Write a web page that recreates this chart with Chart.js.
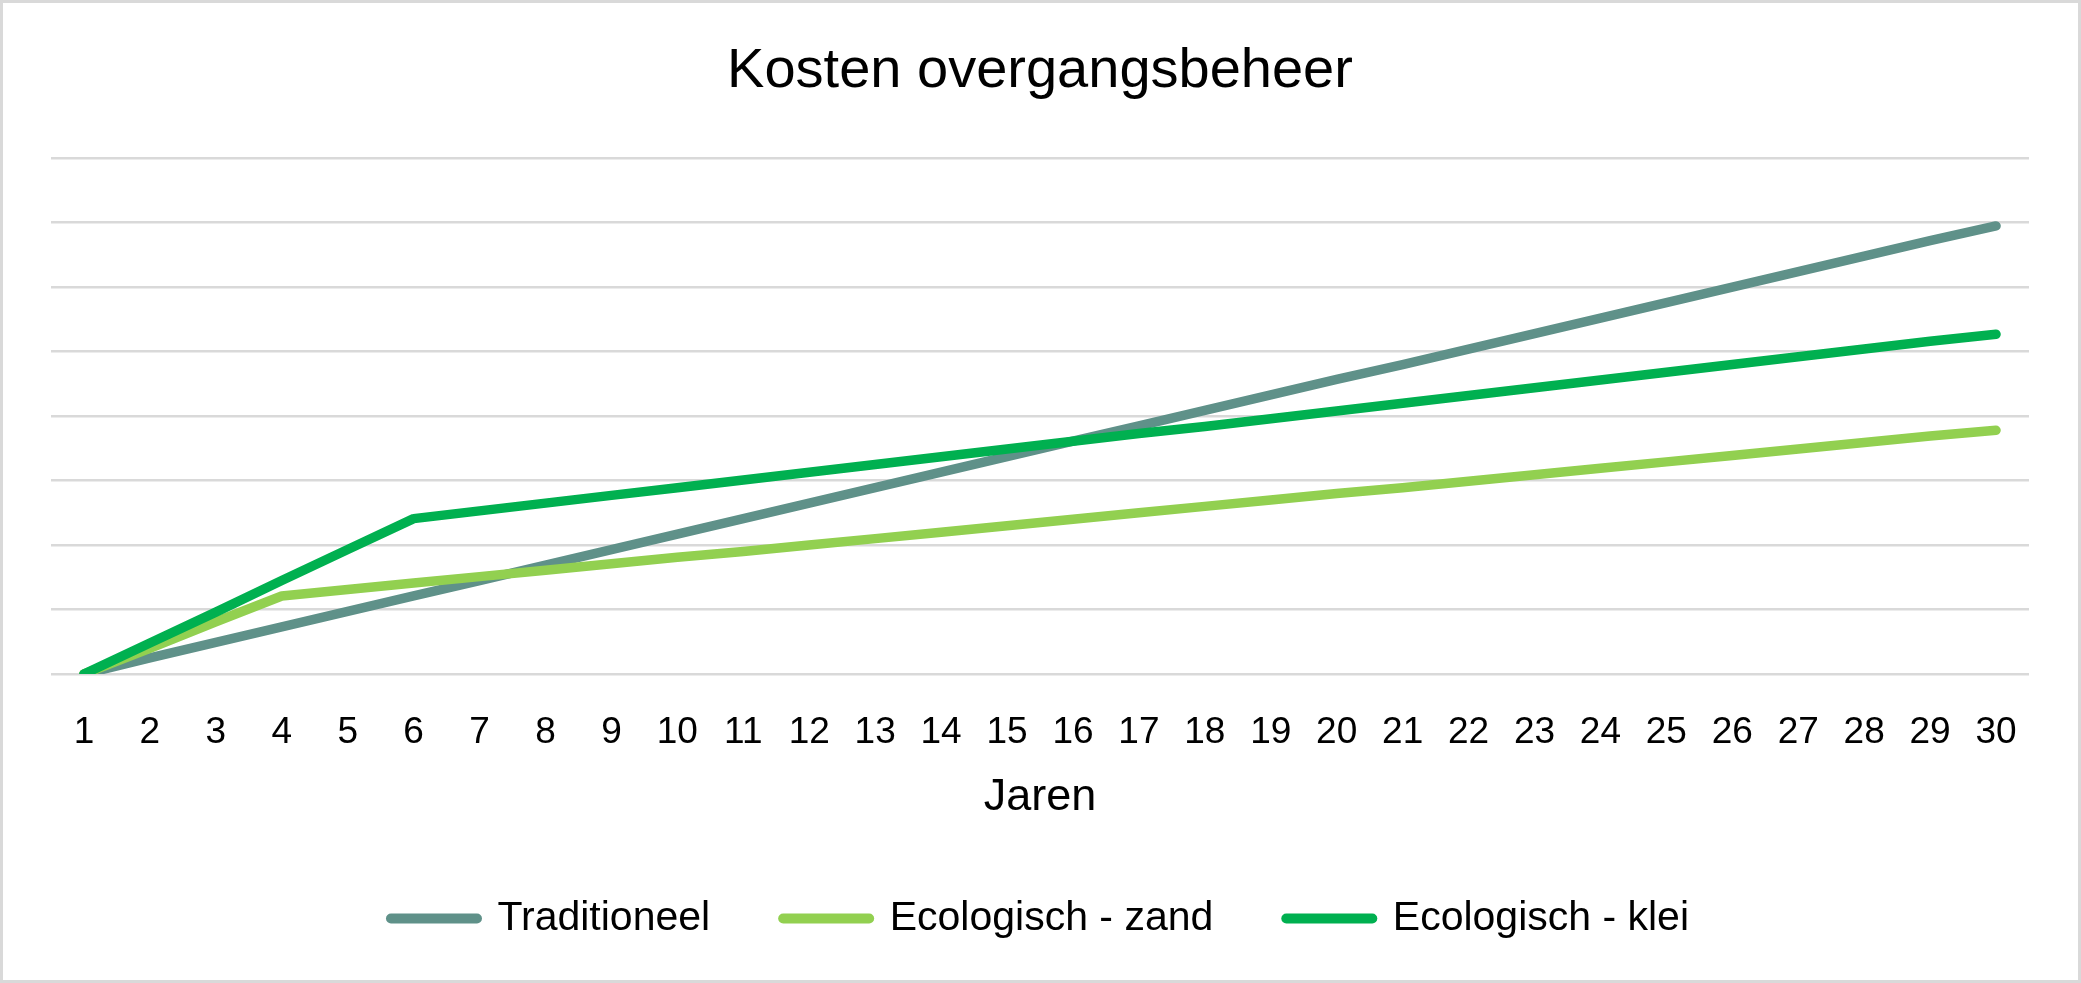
<!DOCTYPE html>
<html>
<head>
<meta charset="utf-8">
<title>Kosten overgangsbeheer</title>
<script src="https://cdn.jsdelivr.net/npm/chart.js@4/dist/chart.umd.min.js"></script>
<style>
  html, body { margin: 0; padding: 0; background: #fff; }
  #wrap {
    width: 2081px;
    height: 983px;
    box-sizing: border-box;
    border: 3px solid #d9d9d9;
    position: relative;
  }
</style>
</head>
<body>
<div id="wrap"><canvas id="kosten"></canvas></div>
<script>
// values (unit = one gridline step)
const jaren = ["1", "2", "3", "4", "5", "6", "7", "8", "9", "10",
  "11", "12", "13", "14", "15", "16", "17", "18", "19", "20",
  "21", "22", "23", "24", "25", "26", "27", "28", "29", "30"];

const traditioneel = [0, 0.25, 0.49, 0.73, 0.97, 1.21, 1.45, 1.69, 1.93, 2.17,
  2.41, 2.65, 2.89, 3.13, 3.37, 3.61, 3.85, 4.09, 4.33, 4.57,
  4.80, 5.04, 5.28, 5.52, 5.76, 6.00, 6.24, 6.48, 6.72, 6.95];

const ecoZand = [0, 0.40, 0.81, 1.21, 1.31, 1.41, 1.51, 1.61, 1.71, 1.81,
  1.90, 2.00, 2.10, 2.20, 2.30, 2.40, 2.50, 2.60, 2.70, 2.80,
  2.89, 2.99, 3.09, 3.19, 3.29, 3.39, 3.49, 3.59, 3.69, 3.78];

const ecoKlei = [0, 0.48, 0.96, 1.45, 1.93, 2.41, 2.53, 2.65, 2.77, 2.89,
  3.01, 3.13, 3.25, 3.37, 3.49, 3.61, 3.73, 3.84, 3.96, 4.08,
  4.20, 4.32, 4.44, 4.56, 4.68, 4.80, 4.92, 5.04, 5.16, 5.27];

const FONT = "'Liberation Sans', Arial, sans-serif";

function serie(label, data, color, order) {
  return {
    label: label,
    data: data,
    borderColor: color,
    backgroundColor: color,
    borderWidth: 9.5,
    borderCapStyle: "round",
    borderJoinStyle: "round",
    pointRadius: 0,
    pointHoverRadius: 0,
    tension: 0,
    order: order,
  };
}

// default legend items, but drawn as thick lines with round ends
function legendLabels(chart) {
  const items = Chart.defaults.plugins.legend.labels.generateLabels(chart);
  return items.map((item) => {
    item.lineCap = "round";
    item.lineWidth = 10;
    return item;
  });
}

new Chart(document.getElementById("kosten").getContext("2d"), {
  type: "line",
  data: {
    labels: jaren,
    datasets: [
      serie("Traditioneel", traditioneel, "#5f9189", 2),
      serie("Ecologisch - zand", ecoZand, "#92d050", 1),
      serie("Ecologisch - klei", ecoKlei, "#00b050", 0),
    ],
  },
  options: {
    responsive: true,
    maintainAspectRatio: false,
    animation: false,
    devicePixelRatio: 1,
    layout: {
      padding: { top: 0, left: 48, right: 49, bottom: 31 },
    },
    scales: {
      x: {
        offset: true,
        grid: { display: false, drawTicks: false },
        border: { display: false },
        ticks: {
          padding: 37.5,
          color: "#000",
          maxRotation: 0,
          autoSkip: false,
          font: { family: FONT, size: 37, lineHeight: 42 / 37 },
        },
        title: {
          display: true,
          text: "Jaren",
          color: "#000",
          padding: { top: -20, bottom: 0 },
          font: { family: FONT, size: 45 },
        },
      },
      y: {
        min: 0,
        max: 8,
        ticks: { display: false, stepSize: 1 },
        border: { display: false },
        grid: { color: "#d9d9d9", lineWidth: 2.5, drawTicks: false },
      },
    },
    plugins: {
      tooltip: { enabled: false },
      title: {
        display: true,
        text: "Kosten overgangsbeheer",
        color: "#000",
        padding: { top: 35, bottom: 53 },
        font: { family: FONT, size: 56, weight: "normal" },
      },
      legend: {
        position: "bottom",
        labels: {
          usePointStyle: true,
          pointStyle: "line",
          pointStyleWidth: 86,
          padding: 73,
          color: "#000",
          font: { family: FONT, size: 41 },
          generateLabels: legendLabels,
          sort: (a, b) => a.datasetIndex - b.datasetIndex,
        },
      },
    },
  },
});
</script>
</body>
</html>
